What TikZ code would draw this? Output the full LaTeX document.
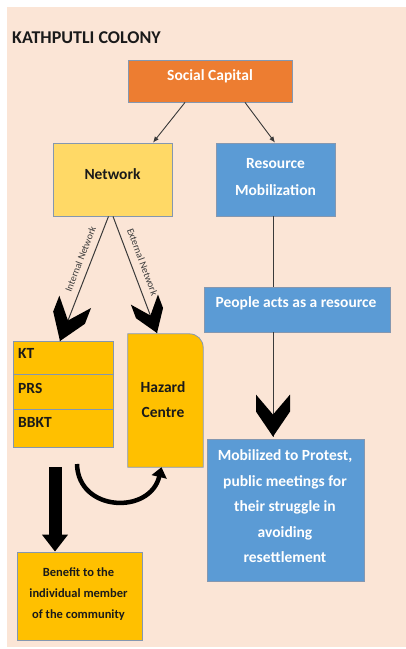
\documentclass[tikz,border=0pt]{standalone}
\usepackage{fontspec}
\setmainfont{Carlito}
\usetikzlibrary{arrows.meta,calc}
\definecolor{bg}{HTML}{FBE5D6}
\definecolor{orng}{HTML}{ED7D31}
\definecolor{ylw}{HTML}{FFD966}
\definecolor{blu}{HTML}{5B9BD5}
\definecolor{gld}{HTML}{FFC000}
\definecolor{edgec}{HTML}{8497B0}
\definecolor{dark}{HTML}{1A1A1A}
\definecolor{linec}{HTML}{3A3A3A}
\begin{document}
\begin{tikzpicture}[x=1pt,y=-1pt,
  box/.style={draw=edgec, line width=0.8pt, inner sep=0pt},
  orangebox/.style={box, fill=orng},
  yellowbox/.style={box, fill=ylw},
  bluebox/.style={box, fill=blu},
  goldbox/.style={box, fill=gld},
  whitetxt/.style={inner sep=0pt, align=center, text=white, font=\bfseries\fontsize{15.5}{#1}\selectfont},
  whitetxt/.default=25.5,
  darktxt/.style={inner sep=0pt, align=center, text=dark, font=\bfseries\fontsize{15.5}{#1}\selectfont},
  darktxt/.default=25,
  slimarrow/.style={draw=linec, line width=0.9pt, -{Latex[length=6pt,width=5pt]}},
  netline/.style={draw=linec, line width=1pt},
  netlabel/.style={inner sep=0pt, text=linec, font=\fontsize{10}{12}\selectfont},
  fatarrow/.style={line width=13pt, -{Triangle[width=25pt,length=17pt]}},
  curvarrow/.style={line width=4.5pt, -{Triangle[width=15pt,length=10pt]}},
  chev/.pic={\fill[black] (0,0) -- (-17,-25) -- (-17,-42) -- (0,-22) -- (17,-42) -- (17,-25) -- cycle;}
]
\useasboundingbox (0,0) rectangle (406,649);
\fill[white] (0,0) rectangle (406,649);
\fill[bg] (7,7) rectangle (406,647);

% title
\node[anchor=base west, inner sep=0pt, text=dark, font=\bfseries\fontsize{18}{20}\selectfont] (title) at (12,43) {KATHPUTLI COLONY};

% boxes
\node[orangebox, minimum width=164, minimum height=42] (sc) at (210,81) {};
\node[whitetxt] (sct) at (210,76.2) {Social Capital};

\node[yellowbox, minimum width=119, minimum height=73] (net) at (112.5,179.5) {};
\node[darktxt] (nett) at (112.5,173.7) {Network};

\node[bluebox, minimum width=119, minimum height=73] (rm) at (275.5,179.5) {};
\node[whitetxt=27] (rmt) at (275.5,177) {Resource\\Mobilization};

\node[bluebox, minimum width=186, minimum height=45] (people) at (297,309.5) {};
\node[whitetxt] (peoplet) at (296,303) {People acts as a resource};

\node[goldbox, minimum width=100, minimum height=33] (kt) at (63,357.5) {};
\node[goldbox, minimum width=100, minimum height=35] (prs) at (63,391.5) {};
\node[goldbox, minimum width=100, minimum height=38] (bbkt) at (63,428) {};
\node[darktxt, anchor=base west] (ktt) at (18,358) {KT};
\node[darktxt, anchor=base west] (prst) at (18,393) {PRS};
\node[darktxt, anchor=base west] (bbktt) at (18,427) {BBKT};

\node[inner sep=0pt, minimum width=75, minimum height=133] (haz) at (165.5,400.5) {};
\path[fill=gld, draw=edgec, line width=0.8pt] (haz.south west) -- (haz.north west)
  -- ($(haz.north east)+(-14,0)$) .. controls ($(haz.north east)+(-6,0)$) and ($(haz.north east)+(0,6)$) .. ($(haz.north east)+(0,14)$)
  -- (haz.south east) -- cycle;
\node[darktxt=24.7] (hazt) at (163,399.6) {Hazard\\Centre};

\node[bluebox, minimum width=157, minimum height=142] (mob) at (285.5,510) {};
\node[whitetxt] (mobt) at (285,506.4) {Mobilized to Protest,\\public meetings for\\their struggle in\\avoiding\\resettlement};

\node[goldbox, minimum width=125, minimum height=88] (ben) at (79.5,596) {};
\node[inner sep=0pt, align=center, text=dark, font=\bfseries\fontsize{12.5}{21.3}\selectfont] (bent) at (78.5,594) {Benefit to the\\individual member\\of the community};

% social capital connectors
\draw[slimarrow] ([xshift=-25]sc.south) -- ([xshift=40.5]net.north);
\draw[slimarrow] ([xshift=35]sc.south) -- ([xshift=-0.5]rm.north);

% network branches
\coordinate (itip) at (60,341);
\coordinate (etip) at (157,333);
\draw[netline] ([xshift=-4]net.south) -- (itip);
\draw[netline] ([xshift=0.5]net.south) -- (etip);
\pic[rotate=-21.2] at (itip) {chev};
\pic[rotate=20.6, scale=0.85] at (etip) {chev};
\node[netlabel, rotate=68.8] (intl) at (80.5,259) {Internal Network};
\node[netlabel, rotate=-69.4] (extl) at (142.5,262) {External Network};

% resource mobilization chain
\coordinate (vx) at (273,0);
\draw[netline] (rm.south -| vx) -- (people.north -| vx);
\coordinate (dtip) at ($(mob.north -| vx)+(0,-2)$);
\draw[netline] (people.south -| vx) -- (dtip);
\pic at (dtip) {chev};

% bottom arrows
\coordinate (fa) at (55,467);
\draw[fatarrow] (fa) -- (fa |- ben.north);
\coordinate (cs) at (77,464);
\draw[curvarrow] (cs) .. controls (78,512) and (150,515) .. ($(haz.south)+(-4,0)$);
\end{tikzpicture}
\end{document}
